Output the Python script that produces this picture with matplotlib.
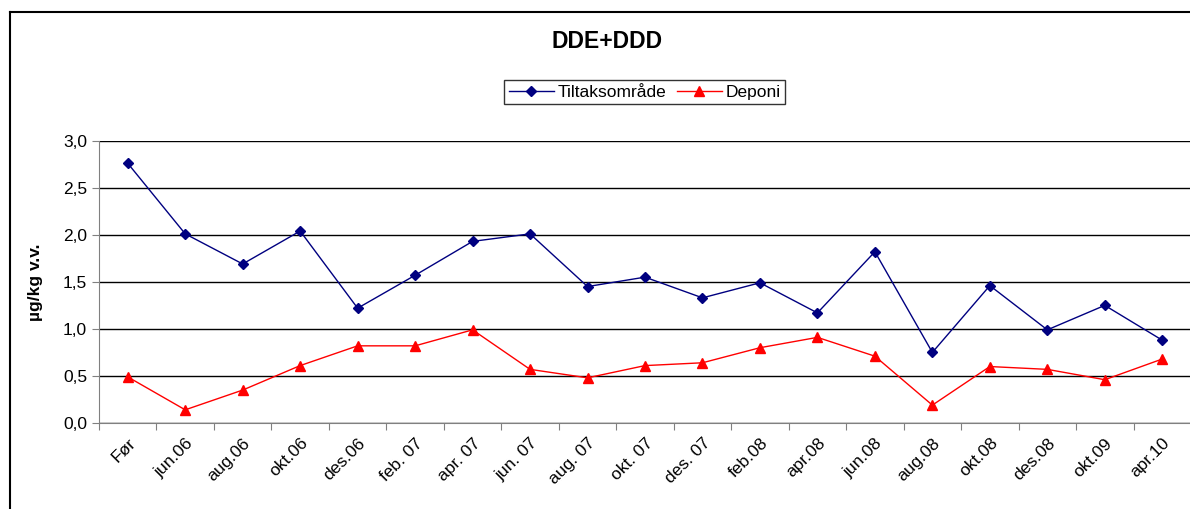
import matplotlib
matplotlib.use("Agg")
import matplotlib.pyplot as plt
from matplotlib.lines import Line2D
import numpy as np

categories = ["Før", "jun.06", "aug.06", "okt.06", "des.06", "feb. 07", "apr. 07",
              "jun. 07", "aug. 07", "okt. 07", "des. 07", "feb.08", "apr.08",
              "jun.08", "aug.08", "okt.08", "des.08", "okt.09", "apr.10"]
tiltak = [2.76, 2.01, 1.69, 2.04, 1.22, 1.57, 1.93, 2.01, 1.45, 1.55, 1.33,
          1.49, 1.17, 1.82, 0.75, 1.46, 0.99, 1.25, 0.88]
deponi = [0.49, 0.14, 0.35, 0.61, 0.82, 0.82, 0.99, 0.57, 0.48, 0.61, 0.64,
          0.80, 0.91, 0.71, 0.19, 0.60, 0.57, 0.46, 0.68]
yticks = [0.0, 0.5, 1.0, 1.5, 2.0, 2.5, 3.0]

W, H = 1190, 509
fig = plt.figure(figsize=(W / 100, H / 100), dpi=100)
plt.rcParams['font.family'] = ['Liberation Sans', 'DejaVu Sans']

# outer frame (chart area border, cropped on right/bottom)
fig.add_artist(Line2D([10 / W, 10 / W], [0, 1 - 12 / H], transform=fig.transFigure,
                      color='black', lw=1.5))
fig.add_artist(Line2D([10 / W, 1], [1 - 12 / H, 1 - 12 / H], transform=fig.transFigure,
                      color='black', lw=1.5))

left, right = 99 / W, 1191 / W
bottom, top = 1 - 423 / H, 1 - 140.7 / H
ax = fig.add_axes([left, bottom, right - left, top - bottom])

x = np.arange(len(categories))
ax.plot(x, tiltak, color='#000080', lw=1.0, marker='D', markersize=5.5,
        label='Tiltaksområde')
ax.plot(x, deponi, color='#FF0000', lw=1.0, marker='^', markersize=7,
        label='Deponi')

ax.set_xlim(-0.5, len(categories) - 0.5)
ax.set_ylim(0, 3.0)
ax.set_yticks(yticks)
ax.set_yticklabels([f"{v:.1f}".replace('.', ',') for v in yticks], fontsize=12.5)
ax.yaxis.grid(True, color='black', lw=1.0)
ax.set_axisbelow(True)

# category boundary ticks
ax.set_xticks(np.arange(-0.5, len(categories) + 0.5, 1.0), minor=False)
ax.set_xticklabels([])
ax.set_xticks(x, minor=True)
ax.set_xticklabels(categories, minor=True, rotation=45, ha='right', va='top',
                   rotation_mode='anchor', fontsize=12.5)
ax.tick_params(axis='x', which='minor', length=0, pad=9)
ax.tick_params(axis='x', which='major', length=5, direction='out', color='#808080')
ax.tick_params(axis='y', length=5, direction='out', color='#808080')

for s in ['top', 'right']:
    ax.spines[s].set_visible(False)
ax.spines['left'].set_color('#808080')
ax.spines['bottom'].set_color('#808080')

ax.set_ylabel('µg/kg v.v.', fontsize=12.5, fontweight='bold')
ax.yaxis.set_label_coords((43 - 99) / 1092, 0.5)

fig.text(607 / W, 1 - 42 / H, 'DDE+DDD', ha='center', va='center',
         fontsize=16.5, fontweight='bold')

leg = fig.legend(loc='center', bbox_to_anchor=(644.5 / W, 1 - 92 / H), ncol=2,
                 fontsize=12.5, frameon=True, fancybox=False, edgecolor='black',
                 borderpad=0.25, handlelength=2.6, columnspacing=0.6,
                 handletextpad=0.2, borderaxespad=0)
leg.get_frame().set_linewidth(1.0)

fig.savefig('out.png', dpi=100)
